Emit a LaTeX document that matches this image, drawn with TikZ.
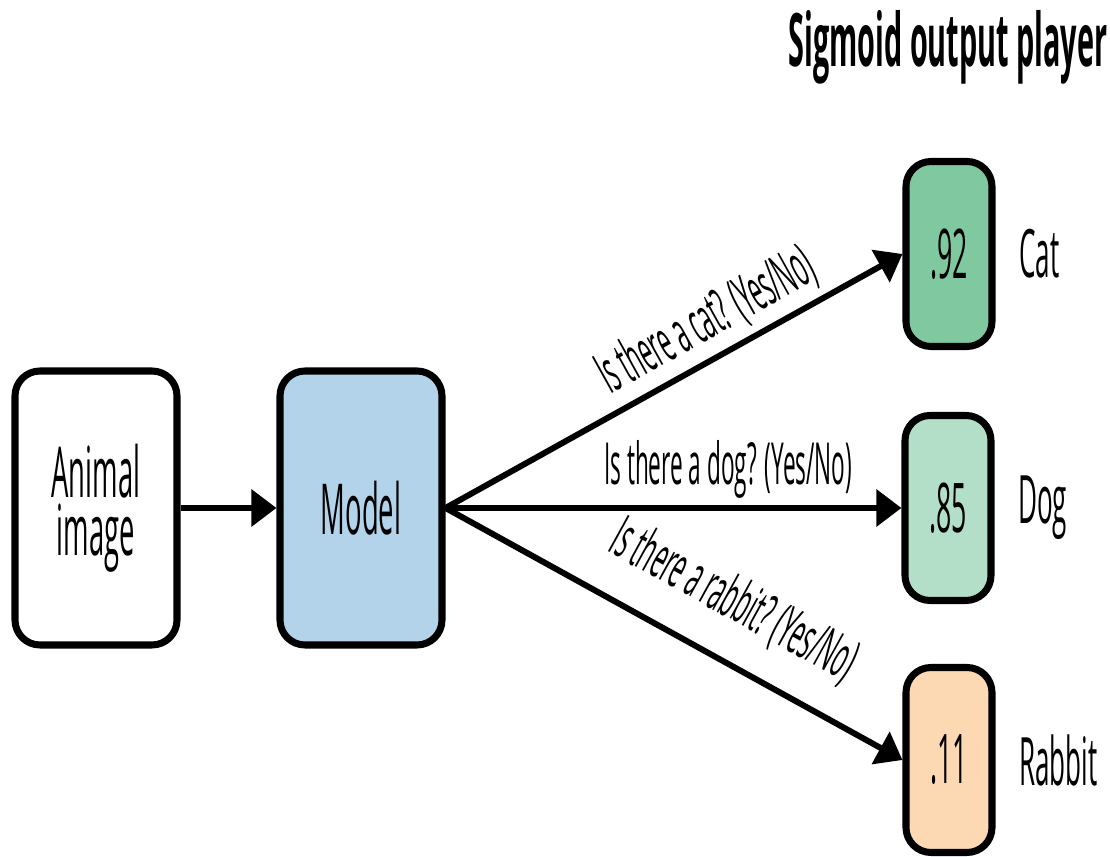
\documentclass[tikz,border=0pt]{standalone}
\usepackage{fontspec}
\setmainfont{Open Sans}[FakeStretch=0.39]
\usepackage{tikz}
\usetikzlibrary{arrows.meta, positioning}

\definecolor{modelblue}{HTML}{B2D3EA}
\definecolor{catgreen}{HTML}{80C8A0}
\definecolor{doggreen}{HTML}{B3DFC8}
\definecolor{rabbitpeach}{HTML}{FCD9B3}

\begin{document}
\begin{tikzpicture}[
		bigbox/.style={draw, line width=2pt, rounded corners=0.25cm, minimum width=1.62cm, minimum height=2.74cm, align=center, font=\fontsize{20}{16.5}\selectfont},
		outbox/.style={draw, line width=2pt, rounded corners=0.25cm, minimum width=0.86cm, minimum height=1.85cm, font=\fontsize{19.5}{20}\selectfont},
		outlabel/.style={inner sep=0pt, font=\fontsize{19}{20}\selectfont},
		qlabel/.style={font=\fontsize{16.5}{18}\selectfont, inner sep=2pt},
		arr/.style={line width=1.7pt, -{Triangle[length=0.25cm, width=0.36cm]}}
	]
		\useasboundingbox (0, 0) rectangle (11.1, 8.57);
		\node[bigbox] (image) at (0.96, 3.49) {Animal\\image};
		\node[bigbox, fill=modelblue] (model) at (3.61, 3.49) {Model};
		\node[outbox, fill=catgreen] (cat) at (9.49, 6.03) {.92};
		\node[outbox, fill=doggreen] (dog) at (9.48, 3.49) {.85};
		\node[outbox, fill=rabbitpeach] (rabbit) at (9.49, 0.97) {.11};
		\node[outlabel, right=0.23cm of cat] (catname) {Cat};
		\node[outlabel, right=0.23cm of dog] (dogname) {Dog};
		\node[outlabel, right=0.23cm of rabbit] (rabbitname) {Rabbit};
		\node[font=\fontsize{21}{24}\selectfont\bfseries] (title) at (9.48, 8.1) {Sigmoid output player};
		\draw[arr] (image) -- (model);
		\draw[arr] (model.east) -- (cat.west) node[qlabel, pos=0.61, sloped, above] {Is there a cat? (Yes/No)};
		\draw[arr] (model.east) -- (dog.west) node[qlabel, pos=0.62, above] {Is there a dog? (Yes/No)};
		\draw[arr] (model.east) -- (rabbit.west) node[qlabel, pos=0.57, sloped, above, yshift=6pt] {Is there a rabbit? (Yes/No)};
	\end{tikzpicture}
\end{document}
